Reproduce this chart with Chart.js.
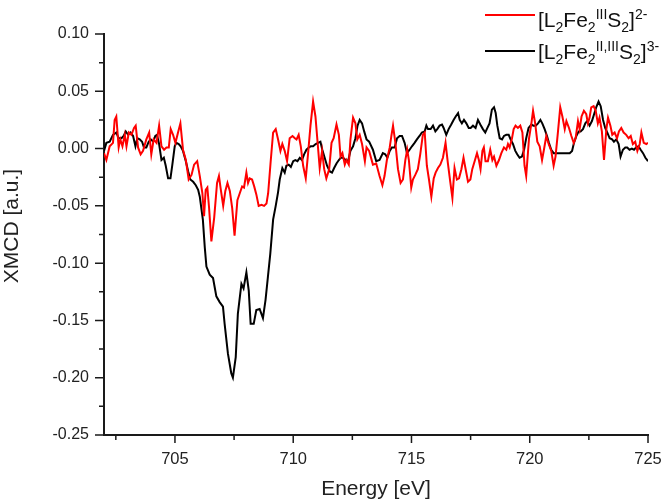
<!DOCTYPE html>
<html>
<head>
<meta charset="utf-8">
<title>XMCD</title>
<script src="https://cdn.jsdelivr.net/npm/chart.js@4.4.1/dist/chart.umd.min.js"></script>
<style>
  html, body { margin: 0; padding: 0; background: #fff; }
  #wrap { position: relative; width: 666px; height: 503px; }
  .leg { position: absolute; font-family: "Liberation Sans", Arial, sans-serif; font-size: 21px; line-height: 21px; color: #111; white-space: nowrap; }
  .leg sub, .leg sup { font-size: 14px; line-height: 0; position: relative; vertical-align: baseline; }
  .leg sub { top: 5px; }
  .leg sup { top: -8px; }
  .sw { position: absolute; width: 50px; height: 2px; }
</style>
</head>
<body>
<div id="wrap">
  <canvas id="grafica-xmcd" width="666" height="503"></canvas>
  <div class="sw" style="left:485px;top:14px;background:#ff0000"></div>
  <div class="leg" style="left:538px;top:9px">[L<sub>2</sub>Fe<sub>2</sub><sup>III</sup>S<sub>2</sub>]<sup>2-</sup></div>
  <div class="sw" style="left:485px;top:50px;background:#000"></div>
  <div class="leg" style="left:538px;top:41px">[L<sub>2</sub>Fe<sub>2</sub><sup>II,III</sup>S<sub>2</sub>]<sup>3-</sup></div>
</div>
<script>
// red curve: [L2Fe2(III)S2]2-
var rojoEnergia = [702.00,702.10,702.24,702.38,702.45,702.52,702.62,702.69,702.78,702.88,702.95,703.05,703.16,703.27,703.34,703.44,703.55,703.65,703.79,703.91,
  704.00,704.10,704.22,704.33,704.43,704.54,704.64,704.74,704.82,704.92,705.02,705.13,705.23,705.34,705.46,705.58,705.70,705.81,705.94,706.05,
  706.16,706.23,706.30,706.37,706.44,706.54,706.66,706.78,706.86,706.94,707.04,707.13,707.22,707.32,707.42,707.52,707.64,707.74,707.84,707.92,
  708.02,708.09,708.16,708.26,708.35,708.44,708.54,708.66,708.77,708.87,708.94,709.04,709.15,709.26,709.36,709.46,709.54,709.64,709.74,709.85,
  709.97,710.07,710.14,710.23,710.32,710.42,710.53,710.63,710.73,710.84,710.94,711.02,711.12,711.22,711.31,711.40,711.52,711.62,711.71,711.83,
  711.93,712.00,712.08,712.18,712.25,712.35,712.42,712.53,712.63,712.71,712.81,712.91,713.03,713.10,713.21,713.37,713.51,713.65,713.77,713.86,
  713.96,714.08,714.15,714.22,714.32,714.43,714.54,714.64,714.74,714.82,714.89,714.99,715.06,715.16,715.27,715.37,715.48,715.56,715.65,715.74,
  715.84,715.94,716.02,716.12,716.22,716.33,716.44,716.54,716.64,716.73,716.82,716.92,717.01,717.11,717.20,717.29,717.39,717.49,717.57,717.67,
  717.77,717.85,717.92,718.00,718.06,718.13,718.23,718.33,718.42,718.49,718.59,718.70,718.80,718.91,719.01,719.08,719.15,719.25,719.32,719.40,
  719.50,719.60,719.69,719.78,719.85,719.97,720.07,720.14,720.23,720.32,720.42,720.52,720.60,720.70,720.80,720.91,721.01,721.09,721.19,721.29,
  721.38,721.48,721.55,721.66,721.76,721.86,721.94,722.04,722.11,722.19,722.29,722.39,722.46,722.53,722.60,722.70,722.79,722.88,722.95,723.05,
  723.14,723.24,723.31,723.41,723.49,723.59,723.69,723.77,723.87,723.97,724.08,724.18,724.27,724.36,724.46,724.55,724.65,724.72,724.82,724.93,725.00];
var rojoXmcd = [-0.004,-0.010,0.002,0.005,0.025,0.028,0.001,0.008,0.002,0.012,0.002,0.014,0.012,0.018,0.020,0.001,-0.005,-0.002,0.008,0.014,
  -0.005,0.008,0.005,0.020,0.002,-0.001,0.001,0.001,0.017,0.012,0.005,0.014,0.022,-0.001,-0.010,-0.027,-0.023,-0.014,-0.011,-0.024,
  -0.039,-0.059,-0.036,-0.034,-0.051,-0.081,-0.060,-0.030,-0.024,-0.036,-0.050,-0.037,-0.030,-0.037,-0.052,-0.076,-0.045,-0.039,-0.033,-0.034,
  -0.021,-0.030,-0.026,-0.027,-0.033,-0.040,-0.050,-0.049,-0.050,-0.048,-0.039,-0.013,0.014,0.017,0.008,-0.002,0.004,-0.002,-0.011,0.009,
  0.011,0.009,0.008,0.012,0.002,-0.015,-0.026,-0.004,0.020,0.041,0.028,0.008,-0.017,-0.002,-0.018,-0.026,-0.018,0.005,0.009,0.021,
  0.012,-0.007,-0.004,-0.014,-0.010,-0.014,0.008,0.027,0.022,0.008,0.012,0.004,-0.011,0.001,-0.002,-0.014,-0.013,-0.024,-0.032,-0.024,
  -0.010,0.001,0.011,0.020,0.005,-0.018,-0.030,-0.027,-0.010,-0.001,-0.010,-0.034,-0.027,-0.023,-0.018,-0.005,0.012,0.014,-0.015,-0.027,
  -0.042,-0.026,-0.021,-0.017,-0.014,-0.008,0.005,-0.013,-0.029,-0.043,-0.017,-0.027,-0.026,-0.018,-0.008,-0.018,-0.029,-0.027,-0.018,-0.011,
  -0.004,-0.010,-0.018,-0.002,0.001,-0.011,-0.011,-0.001,-0.010,-0.007,-0.015,-0.010,-0.004,0.001,-0.001,0.004,0.001,0.009,0.017,0.020,
  0.018,0.020,0.014,-0.015,-0.024,0.009,0.022,0.033,0.022,0.006,0.002,-0.010,-0.001,0.011,0.004,-0.002,-0.015,-0.007,0.014,0.036,
  0.028,0.017,0.024,0.018,0.011,0.005,0.009,0.024,0.017,0.028,0.033,0.030,0.022,0.027,0.036,0.037,0.033,0.022,0.027,0.015,
  -0.010,0.017,0.027,0.020,0.012,0.014,0.009,0.015,0.018,0.014,0.012,0.009,0.011,0.004,0.006,-0.002,0.004,0.014,0.005,0.004,0.005];

// black curve: [L2Fe2(II,III)S2]3-
var negroEnergia = [702.00,702.10,702.24,702.38,702.52,702.62,702.74,702.83,702.92,703.02,703.12,703.23,703.33,703.41,703.51,703.61,703.69,703.79,703.89,703.98,
  704.08,704.17,704.24,704.33,704.43,704.53,704.61,704.71,704.81,704.89,704.99,705.06,705.16,705.24,705.34,705.46,705.56,705.65,705.77,705.88,
  705.98,706.05,706.18,706.26,706.33,706.47,706.61,706.68,706.75,706.89,707.03,707.10,707.24,707.38,707.45,707.57,707.66,707.81,707.90,708.02,
  708.12,708.20,708.33,708.44,708.58,708.72,708.83,708.93,709.03,709.15,709.26,709.36,709.43,709.54,709.64,709.71,709.81,709.90,710.00,710.09,
  710.18,710.28,710.37,710.46,710.56,710.66,710.74,710.84,710.95,711.05,711.15,711.23,711.33,711.43,711.55,711.64,711.73,711.83,711.93,712.01,
  712.11,712.21,712.32,712.42,712.53,712.63,712.72,712.81,712.91,713.00,713.10,713.21,713.37,713.51,713.65,713.79,713.89,713.98,714.08,714.17,
  714.29,714.39,714.50,714.60,714.71,714.81,714.92,715.02,715.13,715.23,715.34,715.44,715.56,715.63,715.70,715.81,715.91,716.01,716.09,716.19,
  716.29,716.36,716.47,716.57,716.68,716.78,716.87,716.97,717.04,717.13,717.22,717.32,717.42,717.50,717.60,717.71,717.81,717.91,718.02,718.12,
  718.21,718.30,718.40,718.49,718.56,718.63,718.73,718.83,718.91,719.01,719.11,719.19,719.29,719.39,719.47,719.57,719.67,719.76,719.85,719.95,
  720.07,720.16,720.25,720.35,720.45,720.53,720.63,720.73,720.81,720.91,721.01,721.12,721.40,721.69,721.79,721.87,721.97,722.07,722.15,722.25,
  722.35,722.43,722.53,722.63,722.72,722.81,722.91,723.00,723.10,723.19,723.28,723.38,723.48,723.56,723.66,723.76,723.84,723.94,724.04,724.12,
  724.22,724.32,724.41,724.50,724.60,724.69,724.79,724.89,725.00];
var negroXmcd = [-0.002,0.005,0.006,0.012,0.014,0.009,0.009,0.011,0.015,0.012,0.014,0.011,0.002,0.009,0.008,0.006,0.001,0.001,0.006,0.008,
  0.006,0.011,0.012,0.004,-0.010,-0.008,-0.015,-0.026,-0.026,-0.014,0.002,0.005,0.004,0.002,-0.002,-0.011,-0.020,-0.027,-0.029,-0.032,
  -0.036,-0.042,-0.062,-0.086,-0.103,-0.110,-0.113,-0.121,-0.129,-0.134,-0.138,-0.153,-0.179,-0.196,-0.200,-0.182,-0.144,-0.118,-0.122,-0.108,
  -0.124,-0.153,-0.153,-0.141,-0.140,-0.148,-0.132,-0.112,-0.092,-0.062,-0.050,-0.038,-0.027,-0.017,-0.021,-0.015,-0.014,-0.016,-0.011,-0.010,
  -0.011,-0.008,-0.010,-0.005,-0.001,0.001,0.002,0.002,0.004,0.005,0.006,-0.001,-0.008,-0.015,-0.020,-0.021,-0.017,-0.013,-0.010,-0.008,
  -0.008,-0.010,-0.011,-0.002,0.002,0.009,0.020,0.025,0.022,0.015,0.008,0.006,-0.001,-0.011,-0.010,-0.004,-0.005,-0.008,-0.002,0.001,
  0.001,0.009,0.011,0.011,0.005,-0.004,-0.001,0.002,0.005,0.008,0.011,0.014,0.015,0.020,0.017,0.017,0.020,0.015,0.017,0.020,
  0.021,0.018,0.012,0.017,0.021,0.025,0.028,0.031,0.025,0.022,0.025,0.022,0.018,0.018,0.020,0.018,0.025,0.021,0.017,0.014,
  0.018,0.022,0.034,0.036,0.031,0.020,0.009,0.008,0.011,0.012,0.012,0.008,0.004,-0.002,-0.005,-0.008,-0.007,-0.001,0.009,0.018,
  0.021,0.020,0.020,0.022,0.025,0.022,0.017,0.011,0.005,-0.001,-0.004,-0.004,-0.004,-0.004,-0.002,0.005,0.011,0.015,0.015,0.017,
  0.022,0.024,0.020,0.024,0.030,0.036,0.041,0.037,0.025,0.018,0.014,0.009,0.008,0.006,0.008,0.004,-0.007,-0.001,0.001,0.001,
  -0.001,0.000,-0.001,0.001,0.002,-0.001,-0.004,-0.008,-0.011];

// axis ticks
var xTicksMayores = [705, 710, 715, 720, 725];
var xTicksMenores = [702.5, 707.5, 712.5, 717.5, 722.5];
var yTicksMayores = [-0.25, -0.20, -0.15, -0.10, -0.05, 0.00, 0.05, 0.10];
var yTicksMenores = [-0.225, -0.175, -0.125, -0.075, -0.025, 0.025, 0.075];
var tituloY = 'XMCD [a.u.]';

var fuente = '"Liberation Sans", Arial, sans-serif';

function puntos(xs, ys) {
  return xs.map(function (x, i) { return { x: x, y: ys[i] }; });
}

// minor + major tick marks outside the axes, plus the y title
var marcas = {
  id: 'marcas',
  afterDraw: function (chart) {
    var ctx = chart.ctx, a = chart.chartArea;
    var sx = chart.scales.x, sy = chart.scales.y;
    ctx.save();
    ctx.strokeStyle = '#1a1a1a';
    ctx.lineWidth = 1.5;
    ctx.beginPath();
    xTicksMayores.forEach(function (v) { var p = sx.getPixelForValue(v); ctx.moveTo(p, a.bottom); ctx.lineTo(p, a.bottom + 8); });
    xTicksMenores.forEach(function (v) { var p = sx.getPixelForValue(v); ctx.moveTo(p, a.bottom); ctx.lineTo(p, a.bottom + 5); });
    yTicksMayores.forEach(function (v) { var p = sy.getPixelForValue(v); ctx.moveTo(a.left, p); ctx.lineTo(a.left - 9, p); });
    yTicksMenores.forEach(function (v) { var p = sy.getPixelForValue(v); ctx.moveTo(a.left, p); ctx.lineTo(a.left - 5, p); });
    ctx.stroke();

    ctx.translate(12, 226);
    ctx.rotate(-Math.PI / 2);
    ctx.fillStyle = '#222';
    ctx.font = '21px ' + fuente;
    ctx.textAlign = 'center';
    ctx.textBaseline = 'middle';
    ctx.fillText(tituloY, 0, 0);
    ctx.restore();
  }
};

var contexto = document.getElementById('grafica-xmcd');
var grafica = new Chart(contexto, {
  type: 'line',
  data: {
    datasets: [{
      label: '[L2Fe2IIIS2]2-',
      data: puntos(rojoEnergia, rojoXmcd),
      borderColor: '#ff0000',
      borderWidth: 2,
      pointRadius: 0,
      tension: 0
    }, {
      label: '[L2Fe2II,IIIS2]3-',
      data: puntos(negroEnergia, negroXmcd),
      borderColor: '#000000',
      borderWidth: 2,
      pointRadius: 0,
      tension: 0
    }]
  },
  options: {
    responsive: false,
    animation: false,
    devicePixelRatio: 1,
    layout: { padding: { top: 34, right: 18, left: 0, bottom: 0 } },
    plugins: { legend: { display: false }, tooltip: { enabled: false } },
    scales: {
      x: {
        type: 'linear',
        min: 702, max: 725,
        afterBuildTicks: function (s) { s.ticks = xTicksMayores.map(function (v) { return { value: v }; }); },
        afterFit: function (s) { s.height = 68; s.paddingLeft = 0; s.paddingRight = 0; },
        grid: { display: false, drawTicks: false },
        border: { display: true, color: '#1a1a1a', width: 2 },
        ticks: { color: '#222', padding: 15, maxRotation: 0, font: { family: fuente, size: 16.5 } },
        title: { display: true, text: 'Energy [eV]', color: '#222', padding: { top: 0, bottom: 1 }, font: { family: fuente, size: 21 } }
      },
      y: {
        min: -0.25, max: 0.10,
        afterBuildTicks: function (s) { s.ticks = yTicksMayores.map(function (v) { return { value: v }; }); },
        afterFit: function (s) { s.width = 104; s.paddingTop = 0; s.paddingBottom = 0; },
        grid: { display: false, drawTicks: false },
        border: { display: true, color: '#1a1a1a', width: 2 },
        ticks: {
          color: '#222', padding: 15, font: { family: fuente, size: 16 },
          callback: function (v) { return v.toFixed(2); }
        }
      }
    }
  },
  plugins: [marcas]
});
</script>
</body>
</html>
